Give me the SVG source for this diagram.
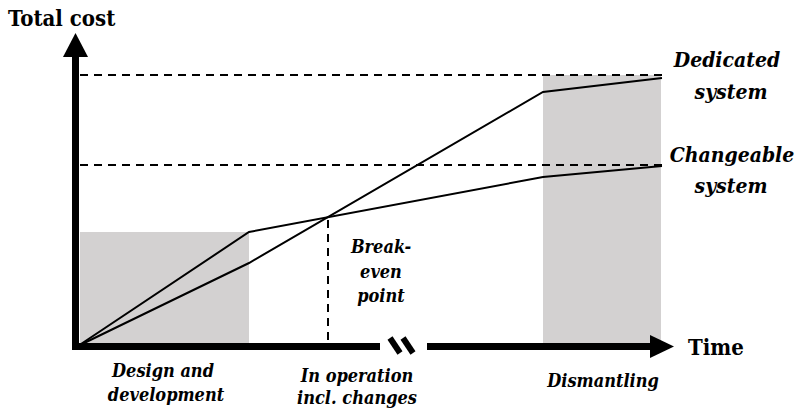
<svg xmlns="http://www.w3.org/2000/svg" width="801" height="411" viewBox="0 0 801 411">
  <style>
    .axis { stroke: #000; stroke-width: 7; fill: none; }
    .dash { stroke: #000; stroke-width: 2; stroke-dasharray: 8 6; fill: none; }
    .curve { stroke: #000; stroke-width: 2; fill: none; stroke-linejoin: miter; }
    .phase { fill: #d3d1d1; }
    text { font-family: 'DejaVu Serif Condensed', 'DejaVu Serif', serif; font-weight: bold; fill: #000; }
    .title { font-size: 22px; }
    .label { font-style: italic; text-anchor: middle; }
    .big { font-size: 21px; }
    .small { font-size: 18px; }
  </style>

  <!-- shaded phases -->
  <g id="phase-design">
    <rect class="phase" x="80" y="232" width="169" height="115"/>
  </g>
  <g id="phase-dismantling">
    <rect class="phase" x="543" y="75" width="118" height="272"/>
  </g>

  <!-- reference levels and break-even marker -->
  <g id="levels">
    <line class="dash" x1="80" y1="75" x2="663" y2="75"/>
    <line class="dash" x1="80" y1="165" x2="663" y2="165"/>
    <line class="dash" x1="328" y1="220" x2="328" y2="345"/>
  </g>

  <!-- cost curves -->
  <g id="connectors">
    <polyline id="changeable-curve" class="curve" points="78,346 249,232 543,177 662,166"/>
    <polyline id="dedicated-curve" class="curve" points="78,346 249,263 543,92 662,78"/>
  </g>

  <!-- axes -->
  <g id="axes">
    <line class="axis" x1="75.5" y1="52" x2="75.5" y2="350"/>
    <polygon points="75.5,33 63,57 88,57" fill="#000"/>
    <line class="axis" x1="72" y1="346.5" x2="380" y2="346.5"/>
    <line class="axis" x1="427" y1="346.5" x2="655" y2="346.5"/>
    <polygon points="674,346.5 650,335 650,358" fill="#000"/>
    <!-- axis break -->
    <line stroke="#000" stroke-width="6" x1="390" y1="338" x2="400" y2="353"/>
    <line stroke="#000" stroke-width="6" x1="403" y1="338" x2="413" y2="353"/>
  </g>

  <g id="axis-labels">
    <text class="title" x="8" y="26">Total cost</text>
    <text class="title" x="688" y="355">Time</text>
  </g>

  <g id="curve-labels">
    <text class="label big" x="727" y="67">Dedicated</text>
    <text class="label big" x="731" y="99">system</text>
    <text class="label big" x="732" y="162">Changeable</text>
    <text class="label big" x="731" y="193">system</text>
  </g>

  <g id="break-even">
    <text class="label small" x="381" y="253">Break-</text>
    <text class="label small" x="381" y="278">even</text>
    <text class="label small" x="381" y="302">point</text>
  </g>

  <g id="phase-labels">
    <text class="label small" x="163" y="377">Design and</text>
    <text class="label small" x="166" y="401">development</text>
    <text class="label small" x="357" y="382">In operation</text>
    <text class="label small" x="357" y="404">incl. changes</text>
    <text class="label small" x="603" y="387">Dismantling</text>
  </g>
</svg>
